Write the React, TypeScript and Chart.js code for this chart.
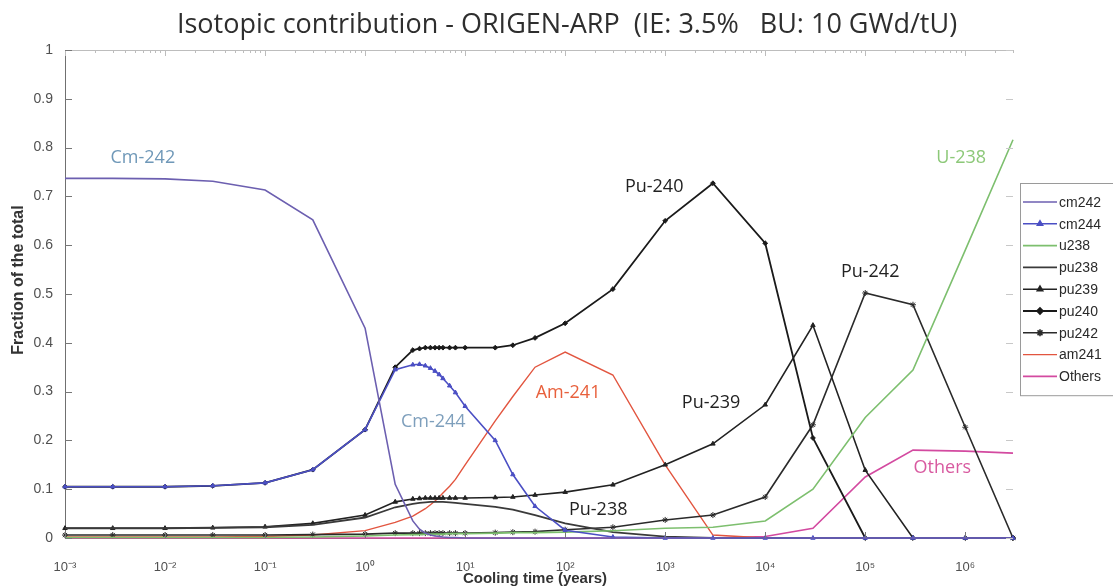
import React, { useEffect, useRef } from "react";
import { Chart, registerables } from "chart.js";
import { drawPoint } from "chart.js/helpers";

Chart.register(...registerables);

// ---- data ----
const years = [0.001, 0.003, 0.01, 0.03, 0.1, 0.3, 1, 2, 3, 3.5, 4, 4.5, 5, 5.5, 6, 7, 8, 10, 20, 30, 50, 100, 300, 1000, 3000, 1e4, 3e4, 1e5, 3e5, 1e6, 3e6];

const cm242 = [0.737, 0.737, 0.736, 0.731, 0.713, 0.652, 0.43, 0.11, 0.035, 0.018, 0.01, 0.006, 0.004, 0.003, 0.002, 0.001, 0.001, 0, 0, 0, 0, 0, 0, 0, 0, 0, 0, 0, 0, 0, 0];
const cm244 = [0.105, 0.105, 0.105, 0.107, 0.113, 0.14, 0.222, 0.345, 0.355, 0.356, 0.353, 0.348, 0.342, 0.335, 0.327, 0.312, 0.298, 0.27, 0.2, 0.13, 0.065, 0.016, 0.002, 0, 0, 0, 0, 0, 0, 0, 0];
const u238 = [0.001, 0.001, 0.001, 0.001, 0.001, 0.002, 0.004, 0.006, 0.007, 0.007, 0.008, 0.008, 0.008, 0.008, 0.008, 0.009, 0.009, 0.009, 0.01, 0.011, 0.011, 0.012, 0.015, 0.02, 0.022, 0.035, 0.1, 0.247, 0.344, 0.59, 0.816];
const pu238 = [0.02, 0.02, 0.02, 0.021, 0.022, 0.027, 0.042, 0.063, 0.07, 0.072, 0.073, 0.074, 0.074, 0.074, 0.074, 0.073, 0.072, 0.07, 0.064, 0.058, 0.047, 0.03, 0.012, 0.003, 0, 0, 0, 0, 0, 0, 0];
const pu239 = [0.02, 0.02, 0.02, 0.021, 0.023, 0.03, 0.047, 0.074, 0.08, 0.081, 0.082, 0.082, 0.082, 0.082, 0.082, 0.082, 0.082, 0.082, 0.083, 0.084, 0.088, 0.094, 0.109, 0.15, 0.193, 0.273, 0.436, 0.139, 0, 0, 0];
const pu240 = [0.105, 0.105, 0.105, 0.107, 0.113, 0.14, 0.222, 0.35, 0.385, 0.388, 0.39, 0.39, 0.39, 0.39, 0.39, 0.39, 0.39, 0.39, 0.39, 0.395, 0.41, 0.44, 0.51, 0.65, 0.727, 0.604, 0.205, 0, 0, 0, 0];
const pu242 = [0.006, 0.006, 0.006, 0.006, 0.006, 0.007, 0.008, 0.01, 0.01, 0.01, 0.01, 0.01, 0.01, 0.01, 0.01, 0.01, 0.01, 0.01, 0.011, 0.012, 0.013, 0.017, 0.022, 0.037, 0.047, 0.084, 0.232, 0.502, 0.478, 0.227, 0];
const am241 = [0.002, 0.002, 0.002, 0.002, 0.003, 0.006, 0.015, 0.032, 0.045, 0.053, 0.06, 0.068, 0.076, 0.084, 0.092, 0.106, 0.12, 0.15, 0.24, 0.29, 0.35, 0.381, 0.334, 0.15, 0.006, 0, 0, 0, 0, 0, 0];
const others = [0, 0, 0, 0, 0, 0, 0, 0, 0, 0, 0, 0, 0, 0, 0, 0, 0, 0, 0, 0, 0, 0, 0, 0, 0, 0.003, 0.02, 0.125, 0.18, 0.178, 0.174];

const seriesNames = ["cm242", "cm244", "u238", "pu238", "pu239", "pu240", "pu242", "am241", "Others"];

const xTickValues = [1e-3, 1e-2, 1e-1, 1, 1e1, 1e2, 1e3, 1e4, 1e5, 1e6];
const xTickLabels = ["10⁻³", "10⁻²", "10⁻¹", "10⁰", "10¹", "10²", "10³", "10⁴", "10⁵", "10⁶"];
const yTickValues = [0, 0.1, 0.2, 0.3, 0.4, 0.5, 0.6, 0.7, 0.8, 0.9, 1];
const yTickLabels = ["0", "0.1", "0.2", "0.3", "0.4", "0.5", "0.6", "0.7", "0.8", "0.9", "1"];

// in-plot labels (data coordinates)
const noteTexts = ["Cm-242", "Cm-244", "Am-241", "Pu-240", "Pu-239", "Pu-238", "Pu-242", "U-238", "Others"];
const noteX = [0.006, 4.8, 107, 776, 2880, 214, 1.12e5, 9.1e5, 5.9e5];
const noteY = [0.779, 0.238, 0.297, 0.719, 0.277, 0.057, 0.545, 0.779, 0.143];
const noteColors = ["#6f98b8", "#7e9fbc", "#e8603c", "#222222", "#222222", "#222222", "#222222", "#8cc878", "#d85aa0"];

const titleText = "Isotopic contribution - ORIGEN-ARP  (IE: 3.5%   BU: 10 GWd/tU)";
const xTitle = "Cooling time (years)";
const yTitle = "Fraction of the total";

const styles = [
  { color: "#6c5fb0", width: 1.6, point: false as any, r: 0 },
  { color: "#4b4fc4", width: 1.6, point: "triangle", r: 2.5 },
  { color: "#7dbf6e", width: 1.6, point: false as any, r: 0 },
  { color: "#3a3a3a", width: 1.8, point: false as any, r: 0 },
  { color: "#222222", width: 1.6, point: "triangle", r: 2.6 },
  { color: "#1a1a1a", width: 1.8, point: "rectRot", r: 2.4 },
  { color: "#2a2a2a", width: 1.6, point: "star", r: 3 },
  { color: "#e2553f", width: 1.4, point: false as any, r: 0 },
  { color: "#d34aa0", width: 1.6, point: false as any, r: 0 },
];

const seriesValues = [cm242, cm244, u238, pu238, pu239, pu240, pu242, am241, others];

const SANS = "'Open Sans', 'Liberation Sans', sans-serif";
const ARIAL = "'Liberation Sans', Arial, sans-serif";

const decorPlugin = {
  id: "decor",
  afterDraw(chart: any) {
    const { ctx, chartArea: a, scales } = chart;
    const xs = scales.x;
    const ys = scales.y;
    ctx.save();

    // top border with minor ticks
    ctx.strokeStyle = "#bdbdbd";
    ctx.lineWidth = 1;
    ctx.beginPath();
    ctx.moveTo(a.left, a.top + 0.5);
    ctx.lineTo(a.right, a.top + 0.5);
    ctx.stroke();
    for (let d = -3; d <= 6; d++) {
      for (let m = 1; m <= 9; m++) {
        const v = m * Math.pow(10, d);
        if (v > 3e6) continue;
        const px = Math.round(xs.getPixelForValue(v)) + 0.5;
        const len = m === 1 ? 6 : 3;
        ctx.beginPath();
        ctx.moveTo(px, a.top);
        ctx.lineTo(px, a.top + len);
        ctx.stroke();
      }
    }
    // right side y ticks
    ctx.strokeStyle = "#c8c8c8";
    yTickValues.forEach((v) => {
      const py = Math.round(ys.getPixelForValue(v)) + 0.5;
      ctx.beginPath();
      ctx.moveTo(a.right - 7, py);
      ctx.lineTo(a.right, py);
      ctx.stroke();
    });
    // left inner y ticks
    ctx.strokeStyle = "#777";
    yTickValues.forEach((v) => {
      const py = Math.round(ys.getPixelForValue(v)) + 0.5;
      ctx.beginPath();
      ctx.moveTo(a.left, py);
      ctx.lineTo(a.left + 7, py);
      ctx.stroke();
    });
    // bottom inner x ticks
    xTickValues.forEach((v) => {
      const px = Math.round(xs.getPixelForValue(v)) + 0.5;
      ctx.beginPath();
      ctx.moveTo(px, a.bottom);
      ctx.lineTo(px, a.bottom - 6);
      ctx.stroke();
    });

    // in-plot annotations
    ctx.font = `18px ${SANS}`;
    ctx.textAlign = "center";
    ctx.textBaseline = "middle";
    noteTexts.forEach((t, i) => {
      ctx.fillStyle = noteColors[i];
      ctx.fillText(t, xs.getPixelForValue(noteX[i]), ys.getPixelForValue(noteY[i]));
    });

    // legend box
    const lx = a.right + 7;
    const ly = a.top + 133;
    const rowH = 21.8;
    const lh = rowH * seriesNames.length + 16;
    ctx.fillStyle = "#ffffff";
    ctx.fillRect(lx, ly, 120, lh);
    ctx.strokeStyle = "#9a9a9a";
    ctx.lineWidth = 1;
    ctx.strokeRect(lx + 0.5, ly + 0.5, 120, lh);
    ctx.font = `14px ${ARIAL}`;
    ctx.textAlign = "left";
    ctx.textBaseline = "middle";
    seriesNames.forEach((name, i) => {
      const yy = ly + 19 + i * rowH;
      const st = styles[i];
      ctx.strokeStyle = st.color;
      ctx.lineWidth = st.width;
      ctx.beginPath();
      ctx.moveTo(lx + 3, yy);
      ctx.lineTo(lx + 37, yy);
      ctx.stroke();
      if (st.point) {
        ctx.fillStyle = st.color;
        drawPoint(ctx, { pointStyle: st.point, radius: st.r + 0.5, rotation: 0, borderWidth: 1 }, lx + 20, yy);
      }
      ctx.fillStyle = "#2a2a2a";
      ctx.fillText(name, lx + 39, yy + 1);
    });

    // title
    ctx.fillStyle = "#2e2e2e";
    ctx.font = `27px ${SANS}`;
    ctx.textAlign = "center";
    ctx.textBaseline = "middle";
    ctx.fillText(titleText, 567, 25);

    // axis titles
    ctx.fillStyle = "#333";
    ctx.font = `bold 15px ${ARIAL}`;
    ctx.fillText(xTitle, 535, 579);
    ctx.save();
    ctx.translate(19, 280);
    ctx.rotate(-Math.PI / 2);
    ctx.font = `bold 16px ${ARIAL}`;
    ctx.fillText(yTitle, 0, 0);
    ctx.restore();

    ctx.restore();
  },
};

export default function App() {
  const ref = useRef<HTMLCanvasElement | null>(null);

  useEffect(() => {
    if (!ref.current) return;
    const datasets = seriesNames.map((name, i) => {
      const st = styles[i];
      return {
        label: name,
        data: years.map((t, k) => ({ x: t, y: seriesValues[i][k] })),
        borderColor: st.color,
        backgroundColor: st.color,
        borderWidth: st.width,
        pointStyle: st.point || "circle",
        pointRadius: st.r,
        pointHoverRadius: st.r,
        pointBackgroundColor: st.color,
        pointBorderColor: st.color,
        pointBorderWidth: 1,
        tension: 0,
        fill: false,
        clip: false as any,
      };
    });

    const chart = new Chart(ref.current, {
      type: "line",
      data: { datasets },
      options: {
        animation: false,
        responsive: false,
        devicePixelRatio: 1,
        layout: { padding: { top: 50, right: 100, bottom: 0, left: 0 } },
        plugins: {
          legend: { display: false },
          title: { display: false },
          tooltip: { enabled: false },
        },
        scales: {
          x: {
            type: "logarithmic",
            min: 1e-3,
            max: 3e6,
            afterBuildTicks: (s: any) => {
              s.ticks = xTickValues.map((v) => ({ value: v }));
            },
            afterFit: (s: any) => {
              s.height = 50;
            },
            grid: { display: false },
            border: { color: "#707070", width: 1 },
            ticks: {
              autoSkip: false,
              maxRotation: 0,
              padding: 14,
              color: "#505050",
              font: { family: ARIAL, size: 13 },
              callback: (_v: any, i: number) => xTickLabels[i],
            },
          },
          y: {
            type: "linear",
            min: 0,
            max: 1,
            afterBuildTicks: (s: any) => {
              s.ticks = yTickValues.map((v) => ({ value: v }));
            },
            afterFit: (s: any) => {
              s.width = 65;
            },
            grid: { display: false },
            border: { color: "#707070", width: 1 },
            ticks: {
              padding: 4,
              color: "#505050",
              font: { family: ARIAL, size: 14 },
              callback: (_v: any, i: number) => yTickLabels[i],
            },
          },
        },
      },
      plugins: [decorPlugin],
    });
    return () => chart.destroy();
  }, []);

  return (
    <div style={{ position: "fixed", left: 0, top: 0, width: 1113, height: 588, background: "#fff" }}>
      <canvas ref={ref} width={1113} height={588} style={{ width: 1113, height: 588, display: "block" }} />
    </div>
  );
}
